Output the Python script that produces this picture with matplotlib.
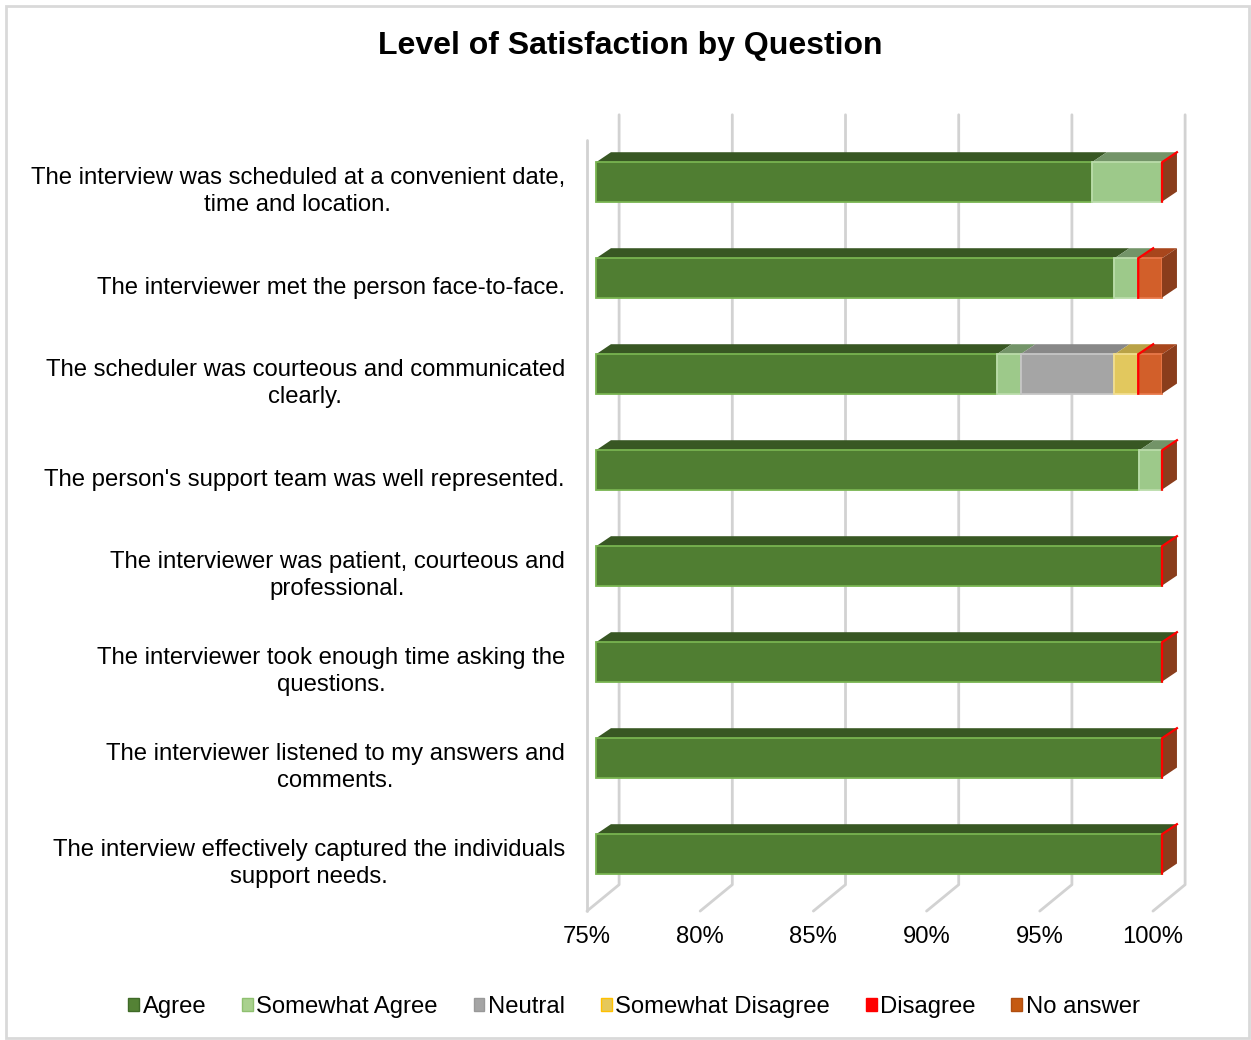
import matplotlib
import matplotlib.pyplot as plt
import numpy as np
from matplotlib.patches import Polygon, Patch, Rectangle

matplotlib.use("Agg")

plt.rcParams["font.family"] = ["Liberation Sans", "DejaVu Sans"]

questions = [
    "The interview was scheduled at a convenient date,\ntime and location.",
    "The interviewer met the person face-to-face.",
    "The scheduler was courteous and communicated\nclearly.",
    "The person's support team was well represented.",
    "The interviewer was patient, courteous and\nprofessional.",
    "The interviewer took enough time asking the\nquestions.",
    "The interviewer listened to my answers and\ncomments.",
    "The interview effectively captured the individuals\nsupport needs.",
]

# share of responses (%) per question
agree = [96.9, 97.9, 92.7, 99.0, 100.0, 100.0, 100.0, 100.0]
somewhat_agree = [3.1, 1.05, 1.05, 1.0, 0.0, 0.0, 0.0, 0.0]
neutral = [0.0, 0.0, 4.15, 0.0, 0.0, 0.0, 0.0, 0.0]
somewhat_disagree = [0.0, 0.0, 1.05, 0.0, 0.0, 0.0, 0.0, 0.0]
disagree = [0.0, 0.0, 0.0, 0.0, 0.0, 0.0, 0.0, 0.0]
no_answer = [0.0, 1.05, 1.05, 0.0, 0.0, 0.0, 0.0, 0.0]

series_names = ["Agree", "Somewhat Agree", "Neutral", "Somewhat Disagree",
                "Disagree", "No answer"]
series_values = [agree, somewhat_agree, neutral, somewhat_disagree,
                 disagree, no_answer]

x_ticks = [75, 80, 85, 90, 95, 100]
x_min = 75

# front, top and edge shades for each series
front_colors = ["#507E32", "#9DC98A", "#A5A5A5", "#E2C85E", "#FF0000", "#D25F2A"]
top_colors = ["#385723", "#739468", "#888888", "#B9A246", "#C00000", "#A8461C"]
edge_colors = ["#78B450", "#BADCAA", "#C6C6C6", "#F2DE8E", "#FF0000", "#E8784A"]
legend_faces = ["#548235", "#A9D18E", "#A5A5A5", "#E6C85A", "#FF0000", "#C55A11"]
legend_edges = ["#3F6A28", "#8FC070", "#999999", "#FFC000", "#FF0000", "#B04E10"]
side_color = "#8A3D1C"

# 3-d look, in data units
bar_h = 0.41
bar_dx, bar_dy = 0.66, 0.105
wall_back_dx, wall_front_dx = 1.02, -0.40
grid_top, floor_back, floor_front = -0.70, 7.32, 7.595
left_wall_top = -0.44

fs = 17.2

fig = plt.figure(figsize=(12.51, 10.40), dpi=100)
ax = fig.add_axes([0.45833, 0.11058, 0.50673, 0.79327])
ax.set_xlim(74, 102)
ax.set_ylim(7.74, -0.854)
ax.axis("off")

grid_kw = dict(color="#D2D2D2", lw=2.0, solid_capstyle="round", zorder=1)
for v in x_ticks:
    xb = v + wall_back_dx
    xf = v + wall_front_dx
    ax.plot([xb, xb, xf], [grid_top, floor_back, floor_front], **grid_kw)
    ax.text(xf, 7.865, f"{v}%", ha="center", va="center", fontsize=fs)
ax.plot([x_min + wall_front_dx] * 2, [left_wall_top, floor_front], **grid_kw)

ypos = np.arange(len(questions))
for i, y in enumerate(ypos):
    top = y - bar_h / 2
    bottom = y + bar_h / 2
    left = x_min
    for k, vals in enumerate(series_values):
        w = vals[i] if k else vals[i] - x_min
        right = left + w
        if w > 0:
            ax.add_patch(Polygon(
                [(left, top), (right, top), (right + bar_dx, top - bar_dy),
                 (left + bar_dx, top - bar_dy)],
                closed=True, fc=top_colors[k], ec="none", zorder=3))
            ax.barh(y, w, left=left, height=bar_h, color=front_colors[k],
                    edgecolor=edge_colors[k], linewidth=1.3, zorder=4)
        if series_names[k] == "Disagree":
            ax.plot([left, left, left + bar_dx], [bottom, top, top - bar_dy],
                    color="#FF0000", lw=1.6, zorder=6)
        left = right
    ax.add_patch(Polygon(
        [(left, bottom), (left, top), (left + bar_dx, top - bar_dy),
         (left + bar_dx, bottom - bar_dy)],
        closed=True, fc=side_color, ec="none", zorder=5))
    ax.text(73.63, y + 0.1, questions[i], ha="right", va="center",
            multialignment="center", fontsize=fs, linespacing=1.3)

fig.text(630 / 1251, 1 - 46 / 1040, "Level of Satisfaction by Question",
         ha="center", va="center", fontsize=23, fontweight="bold")

handles = [Patch(facecolor=fc, edgecolor=ec, linewidth=1.0, label=n)
           for fc, ec, n in zip(legend_faces, legend_edges, series_names)]
fig.legend(handles=handles, loc="center", bbox_to_anchor=(634 / 1251, 1 - 1007 / 1040),
           ncol=6, frameon=False, fontsize=fs, handlelength=0.45,
           handleheight=0.45, handletextpad=0.15, columnspacing=1.5)

fig.patches.append(Rectangle((6 / 1251, 2 / 1040), 1243 / 1251, 1032 / 1040,
                             transform=fig.transFigure, fill=False,
                             edgecolor="#D9D9D9", linewidth=2))

fig.savefig("out.png", dpi=100, facecolor="white")
